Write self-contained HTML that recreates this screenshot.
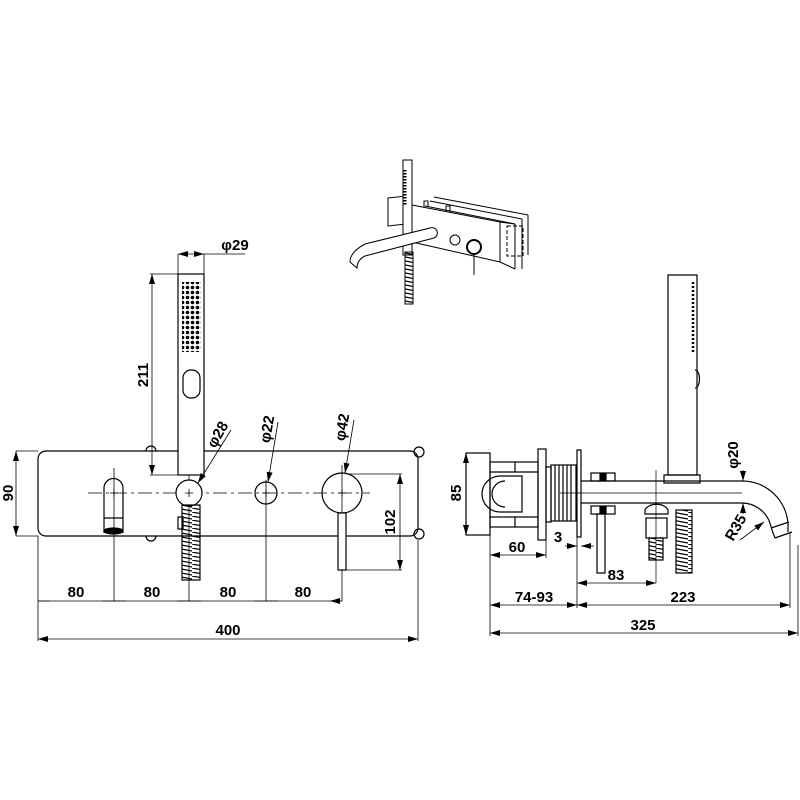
<!DOCTYPE html>
<html><head><meta charset="utf-8"><style>
html,body{margin:0;padding:0;background:#fff}
svg{display:block}
text{font-family:"Liberation Sans",sans-serif;font-size:15px;fill:#000;font-weight:bold}
</style></head><body>
<svg width="800" height="800" viewBox="0 0 800 800" xmlns="http://www.w3.org/2000/svg">
<defs>
<marker id="a" markerWidth="10" markerHeight="6" refX="10" refY="3" orient="auto-start-reverse" markerUnits="userSpaceOnUse"><path d="M0,0 L10,3 L0,6 z" fill="#000"/></marker>
<pattern id="hose" width="16" height="4" patternUnits="userSpaceOnUse"><path d="M0,0 L16,3" stroke="#000" stroke-width="1.2"/></pattern>
<pattern id="dots" width="5" height="5" patternUnits="userSpaceOnUse"><circle cx="2.5" cy="2.5" r="1.8" fill="#000"/></pattern>
</defs>
<g fill="none" stroke="#000" stroke-width="1.2">
<!-- FRONT VIEW -->
<rect x="38" y="451" width="380" height="85" rx="8"/>
<path d="M146,451 a5,5 0 0 1 10,0 M146,536 a5,5 0 0 0 10,0"/>
<circle cx="419" cy="452" r="5"/><circle cx="419" cy="534" r="5"/>
<line x1="88" y1="493" x2="370" y2="493" stroke-dasharray="14,4,3,4" stroke-width="0.8"/>
<line x1="114" y1="468" x2="114" y2="601" stroke-width="0.8"/>
<line x1="189" y1="443" x2="189" y2="601" stroke-width="0.8"/>
<line x1="266" y1="480" x2="266" y2="601" stroke-width="0.8"/>
<line x1="342" y1="465" x2="342" y2="601" stroke-width="0.8"/>
<path d="M104,533 L104,488 a9.5,9.5 0 0 1 19,0 L123,533"/>
<line x1="104" y1="518" x2="123" y2="518"/>
<ellipse cx="113.5" cy="531" rx="9.5" ry="3" fill="#000"/>
<rect x="178" y="274" width="26" height="201" fill="#fff"/>
<rect x="182" y="282" width="19" height="70" fill="url(#dots)" stroke="none"/>
<rect x="183" y="370" width="17" height="28" rx="8"/>
<circle cx="189" cy="493" r="13" fill="#fff"/>
<rect x="182" y="505" width="18" height="75" fill="url(#hose)"/>
<rect x="178" y="517" width="5" height="12"/>
<circle cx="266" cy="493" r="11"/>
<circle cx="342" cy="493" r="20"/>
<rect x="338" y="513" width="8" height="57" fill="#fff"/>
<path d="M110,493h8M114,489v8M185,493h8M189,489v8M262,493h8M266,489v8M338,493h8M342,489v8" stroke-width="0.8"/>
<g stroke-width="0.8">
<line x1="16" y1="451" x2="38" y2="451"/><line x1="16" y1="536" x2="38" y2="536"/>
<line x1="16" y1="451" x2="16" y2="536" marker-start="url(#a)" marker-end="url(#a)"/>
<line x1="150" y1="274" x2="178" y2="274"/><line x1="150" y1="475" x2="178" y2="475"/>
<line x1="152" y1="274" x2="152" y2="475" marker-start="url(#a)" marker-end="url(#a)"/>
<line x1="178" y1="254" x2="178" y2="274"/><line x1="204" y1="254" x2="204" y2="274"/>
<line x1="178" y1="254" x2="204" y2="254" marker-start="url(#a)" marker-end="url(#a)"/>
<line x1="204" y1="254" x2="245" y2="254"/>
<line x1="346" y1="474" x2="402" y2="474"/><line x1="346" y1="570" x2="402" y2="570"/>
<line x1="400" y1="474" x2="400" y2="570" marker-start="url(#a)" marker-end="url(#a)"/>
<line x1="38" y1="536" x2="38" y2="641"/><line x1="418" y1="540" x2="418" y2="641"/>
<line x1="38" y1="601" x2="342" y2="601"/>
<path d="M38,601h12M114,601h-12M114,601h12M189,601h-12M189,601h12M266,601h-12M266,601h12M342,601h-12" marker-end="url(#a)"/>
<line x1="38" y1="639" x2="418" y2="639" marker-start="url(#a)" marker-end="url(#a)"/>
<line x1="198" y1="483" x2="231" y2="430" marker-start="url(#a)"/>
<line x1="268" y1="482" x2="278" y2="422" marker-start="url(#a)"/>
<line x1="345" y1="473" x2="354" y2="420" marker-start="url(#a)"/>
</g>
<!-- SIDE VIEW -->
<rect x="466" y="453" width="24" height="82"/>
<rect x="490" y="462" width="48" height="65"/>
<path d="M490,472h48M490,517h48M515,462v10M515,517v10"/>
<path d="M500,476 a18,18 0 0 0 0,36 h22 v-36 z"/>
<path d="M505,481 a12,12 0 0 0 0,26"/>
<rect x="538" y="449" width="8" height="91"/>
<rect x="546" y="467" width="5" height="55"/>
<rect x="551" y="465" width="25" height="56"/>
<path d="M555,465v56M559,465v56M563,465v56M567,465v56M571,465v56"/>
<rect x="577" y="450" width="4" height="87"/>
<path d="M581,481 H742 M581,503 H742 M742,481 a46,46 0 0 1 46,43 L788,532 M742,503 a30,30 0 0 1 28,20 L772,530"/>
<path d="M771,528 L789,522 M775,538 L792,532 M772,530 L775,538"/>
<line x1="560" y1="493" x2="742" y2="493" stroke-width="0.7"/>
<line x1="656" y1="470" x2="656" y2="583" stroke-width="0.7"/>
<rect x="591" y="473" width="24" height="8"/><rect x="600" y="474" width="6" height="6" fill="#000"/>
<rect x="591" y="506" width="24" height="8"/><rect x="600" y="507" width="6" height="6" fill="#000"/>
<rect x="597" y="514" width="8" height="59"/>
<path d="M645,510 a12,8 0 0 1 23,0 v4 h-23 z"/>
<rect x="646" y="518" width="21" height="20"/>
<rect x="649" y="538" width="14" height="22" fill="url(#hose)"/>
<rect x="668" y="275" width="29" height="200" fill="#fff"/>
<path d="M664,475 h36 v8 h-36 z"/>
<path d="M693,282 v72" stroke-dasharray="2,2" stroke-width="2.5"/>
<path d="M695,370 a4,8 0 0 1 0,18"/>
<rect x="676" y="510" width="16" height="63" fill="url(#hose)"/>
<g stroke-width="0.8">
<line x1="466" y1="453" x2="466" y2="535" marker-start="url(#a)" marker-end="url(#a)"/>
<line x1="490" y1="535" x2="490" y2="636"/><line x1="546" y1="540" x2="546" y2="558"/>
<line x1="490" y1="555" x2="546" y2="555" marker-start="url(#a)" marker-end="url(#a)"/>
<line x1="565" y1="546" x2="577" y2="546" marker-end="url(#a)"/><line x1="581" y1="546" x2="594" y2="546" marker-start="url(#a)"/>
<line x1="577" y1="537" x2="577" y2="608"/>
<line x1="577" y1="583" x2="656" y2="583" marker-start="url(#a)" marker-end="url(#a)"/>
<line x1="490" y1="605" x2="577" y2="605" marker-start="url(#a)" marker-end="url(#a)"/>
<line x1="577" y1="605" x2="790" y2="605" marker-start="url(#a)" marker-end="url(#a)"/>
<line x1="790" y1="532" x2="790" y2="608"/><line x1="798" y1="545" x2="798" y2="636"/>
<line x1="490" y1="633" x2="798" y2="633" marker-start="url(#a)" marker-end="url(#a)"/>
<line x1="743" y1="470" x2="743" y2="481" marker-end="url(#a)"/><line x1="743" y1="514" x2="743" y2="503" marker-end="url(#a)"/>
<line x1="740" y1="540" x2="764" y2="522" marker-end="url(#a)"/>
</g>
<!-- ISOMETRIC -->
<g stroke-width="1">
<path d="M388,198 l18,-2 v28 l-18,2 z"/>
<path d="M412,205 L500,222 L500,262 L412,242"/>
<path d="M425,206 L515,224 M430,201 L522,219 M434,197 L528,215 M515,224 v45 M522,219 v50 M528,215 v40"/>
<path d="M500,222 L515,224 M500,262 L515,269"/>
<rect x="507" y="226" width="16" height="30" stroke-dasharray="4,2"/>
<path d="M424,207 v-6 h4 v6 M446,212 v-6 h4 v6"/>
<rect x="403" y="160" width="9" height="95" fill="#fff"/>
<path d="M405,170v35" stroke-dasharray="1.5,1.5" stroke-width="3"/>
<path d="M350,262 q0,-10 15,-18 L430,228 a5,5 0 0 1 4,10 L365,256 q-8,4 -8,12 z" fill="#fff"/>
<circle cx="455" cy="240" r="5"/><circle cx="474" cy="247" r="7" stroke-width="2"/>
<line x1="474" y1="254" x2="474" y2="275"/>
<rect x="405" y="252" width="8" height="52" fill="url(#hose)"/>
</g>
</g>
<text x="235" y="250" text-anchor="middle">φ29</text>
<text transform="translate(148,375) rotate(-90)" text-anchor="middle">211</text>
<text transform="translate(13,493) rotate(-90)" text-anchor="middle">90</text>
<text transform="translate(395,522) rotate(-90)" text-anchor="middle">102</text>
<text transform="translate(222,437) rotate(-60)" text-anchor="middle">φ28</text>
<text transform="translate(272,430) rotate(-80)" text-anchor="middle">φ22</text>
<text transform="translate(347,428) rotate(-80)" text-anchor="middle">φ42</text>
<text x="76" y="597" text-anchor="middle">80</text>
<text x="152" y="597" text-anchor="middle">80</text>
<text x="228" y="597" text-anchor="middle">80</text>
<text x="303" y="597" text-anchor="middle">80</text>
<text x="228" y="635" text-anchor="middle">400</text>
<text transform="translate(461,493) rotate(-90)" text-anchor="middle">85</text>
<text x="517" y="552" text-anchor="middle">60</text>
<text x="558" y="542" text-anchor="middle">3</text>
<text x="616" y="580" text-anchor="middle">83</text>
<text x="534" y="602" text-anchor="middle">74-93</text>
<text x="683" y="602" text-anchor="middle">223</text>
<text x="643" y="630" text-anchor="middle">325</text>
<text transform="translate(738,455) rotate(-90)" text-anchor="middle">φ20</text>
<text transform="translate(740,530) rotate(-60)" text-anchor="middle">R35</text>
</svg>
</body></html>
